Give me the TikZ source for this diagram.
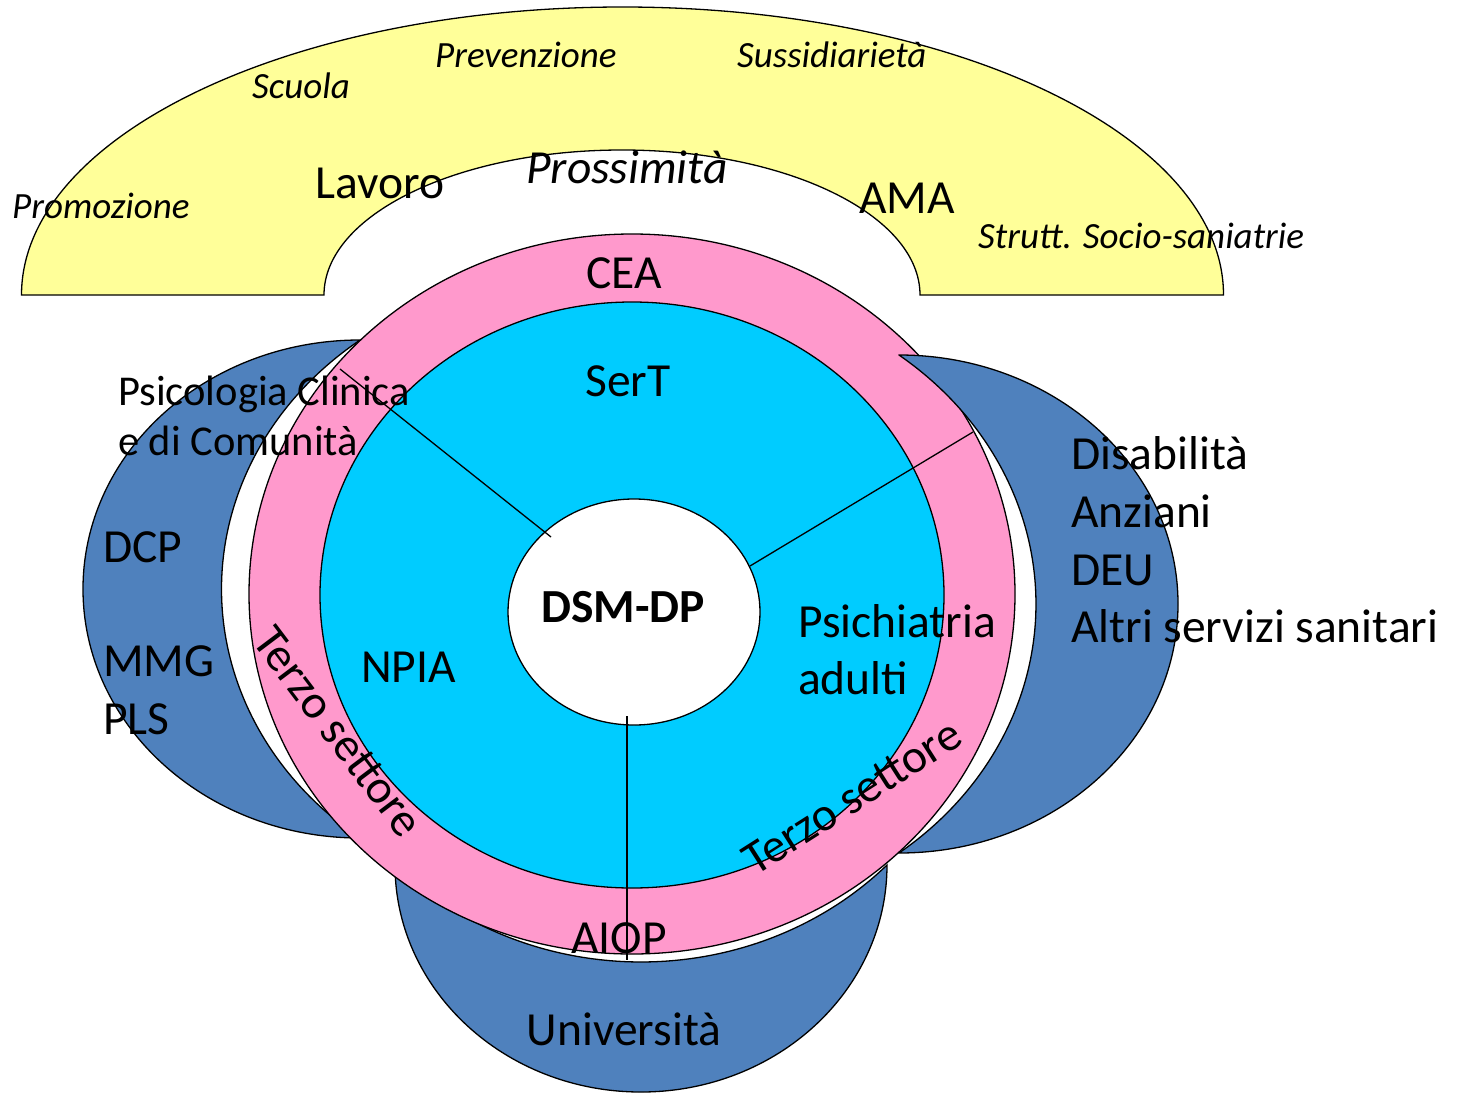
\documentclass[tikz,border=0pt]{standalone}
\usepackage{fontspec}
\setmainfont{Carlito}
\usetikzlibrary{shapes.geometric}
\definecolor{yel}{HTML}{FFFF99}
\definecolor{pnk}{HTML}{FF99CC}
\definecolor{cyn}{HTML}{00CCFF}
\definecolor{blu}{HTML}{4F81BD}
\begin{document}
\begin{tikzpicture}[x=1pt,y=-1pt,
  shapeline/.style={draw=black, line width=1.3pt},
  spoke/.style={draw=black, line width=1.3pt},
  bigfont/.style={font=\fontsize{47.5}{52}\selectfont},
  big/.style={bigfont, inner sep=0pt, anchor=base west},
  bigc/.style={big, anchor=base},
  mid/.style={font=\fontsize{42.5}{46}\selectfont, inner sep=0pt, anchor=base west},
  small/.style={font=\fontsize{37}{40}\selectfont\itshape, inner sep=0pt, anchor=base west}]
\useasboundingbox (0,0) rectangle (1458,1100);
\fill[white] (0,0) rectangle (1458,1100);

% yellow arch
\filldraw[shapeline, fill=yel] (21.5,295) arc[start angle=180,end angle=360,x radius=601,y radius=288]
  -- (920,295) arc[start angle=0,end angle=-180,x radius=298,y radius=145] -- cycle;

% left blue crescent
\filldraw[shapeline, fill=blu] (360,340) arc[start angle=-90,end angle=-270,x radius=277,y radius=249]
  arc[start angle=126.87,end angle=233.13,x radius=346.25,y radius=311.2] -- cycle;

% bottom blue crescent
\filldraw[shapeline, fill=blu] (395,865) arc[start angle=180,end angle=0,x radius=246,y radius=227]
  arc[start angle=43.73,end angle=136.27,x radius=340.4,y radius=314.1] -- cycle;

% pink ring and cyan disc
\filldraw[shapeline, fill=pnk] (632,594) ellipse[x radius=383, y radius=360];
\filldraw[shapeline, fill=cyn] (632,595) ellipse[x radius=312, y radius=293];

% right blue crescent
\filldraw[shapeline, fill=blu] (899,355) arc[start angle=-90,end angle=90,x radius=279,y radius=249]
  arc[start angle=52.3,end angle=-52.3,x radius=352.6,y radius=314.7] -- cycle;

% centre
\node[ellipse, draw=black, line width=1.3pt, fill=white, minimum width=252pt, minimum height=226pt, inner sep=0pt] (dsm) at (634,612) {};

% spokes
\coordinate (s1a) at (340,369);
\coordinate (s1b) at (551,537);
\coordinate (s2a) at (973,432);
\coordinate (s2b) at (750,566);
\coordinate (s3a) at (627,716);
\coordinate (s3b) at (627,960);
\draw[spoke] (s1a) -- (s1b);
\draw[spoke] (s2a) -- (s2b);
\draw[spoke] (s3a) -- (s3b);

% yellow texts
\node[small] (scuola) at (252,98) {Scuola};
\node[small] (prev) at (435,67) {Prevenzione};
\node[small] (suss) at (737,67) {Sussidiarietà};
\node[small] (prom) at (12,218) {Promozione};
\node[small] (strutt) at (978,248) {Strutt. Socio-saniatrie};
\node[big, font=\fontsize{47.5}{52}\selectfont\itshape] (pross) at (526,183) {Prossimità};
\node[big] (lavoro) at (315,198) {Lavoro};
\node[big] (ama) at (859,213) {AMA};

% ring texts
\node[bigc] (cea) at (624,288) {CEA};
\node[bigc] (sert) at (628,396) {SerT};
\node[big] (npia) at (361,682) {NPIA};
\node[big] (psi1) at (798,637) {Psichiatria};
\node[big] (psi2) at (798,694) {adulti};
\node[bigc] (aiop) at (619,953) {AIOP};
\node[bigc, font=\fontsize{47.5}{52}\selectfont\bfseries] (dsmlabel) at (623,622) {DSM-DP};
\node[bigfont, inner sep=0pt, rotate=-53] (terzo1) at (338,732) {Terzo settore};
\node[bigfont, inner sep=0pt, rotate=32.5] (terzo2) at (852,797) {Terzo settore};

% left blue texts
\node[mid] (psc1) at (118,405) {Psicologia Clinica};
\node[mid] (psc2) at (118,455) {e di Comunità};
\node[big] (dcp) at (103,562) {DCP};
\node[big] (mmg) at (103,676) {MMG};
\node[big] (pls) at (103,734) {PLS};

% right blue texts
\node[big] (dis) at (1071,469) {Disabilità};
\node[big] (anz) at (1071,527) {Anziani};
\node[big] (deu) at (1071,585) {DEU};
\node[big] (altri) at (1071,642) {Altri servizi sanitari};

% bottom blue text
\node[bigc] (univ) at (624,1045) {Università};
\end{tikzpicture}
\end{document}
